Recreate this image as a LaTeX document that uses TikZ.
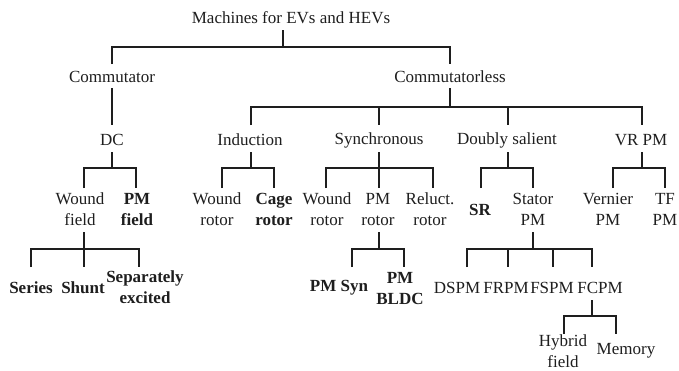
\documentclass[tikz,border=0pt]{standalone}
\usepackage{fontspec}
\setmainfont{Liberation Serif}
\definecolor{ink}{RGB}{30,30,30}
\begin{document}
\begin{tikzpicture}[x=1pt,y=-1pt,
  lab/.style={align=center,inner sep=0pt,text=ink,font=\fontsize{17}{21}\selectfont},
  bl/.style={lab,font=\fontsize{17}{21}\selectfont\bfseries},
  conn/.style={draw=ink,line width=1.8pt}]
\fill[white] (0,0) rectangle (679,370);
\useasboundingbox (0,0) rectangle (679,370);

% nodes
\node[lab] (root) at (291,18) {Machines for EVs and HEVs};
\node[lab] (comm) at (112,77) {Commutator};
\node[lab] (cless) at (450,77) {Commutatorless};
\node[lab] (dc) at (112,140) {DC};
\node[lab] (ind) at (250,140) {Induction};
\node[lab] (syn) at (379,140) {Synchronous};
\node[lab] (ds) at (507,140) {Doubly salient};
\node[lab] (vr) at (641,140) {VR PM};
\node[lab] (wf) at (80,209.5) {Wound\\field};
\node[bl] (pmf) at (137,209.5) {PM\\field};
\node[lab] (wr1) at (217,209.5) {Wound\\rotor};
\node[bl] (cage) at (274,209.5) {Cage\\rotor};
\node[lab] (wr2) at (327,209.5) {Wound\\rotor};
\node[lab] (pmr) at (378,209.5) {PM\\rotor};
\node[lab] (rel) at (430,209.5) {Reluct.\\rotor};
\node[bl] (sr) at (480,210) {SR};
\node[lab] (spm) at (533,209.5) {Stator\\PM};
\node[lab] (vern) at (608,209.5) {Vernier\\PM};
\node[lab] (tf) at (665,209.5) {TF\\PM};
\node[bl] (series) at (31,287.5) {Series};
\node[bl] (shunt) at (83,288) {Shunt};
\node[bl] (sep) at (145,287.5) {Separately\\excited};
\node[bl] (pmsyn) at (339,288) {PM Syn};
\node[bl] (bldc) at (400,288.5) {PM\\BLDC};
\node[lab] (dspm) at (457,288) {DSPM};
\node[lab] (frpm) at (506,288) {FRPM};
\node[lab] (fspm) at (552,288) {FSPM};
\node[lab] (fcpm) at (600,288) {FCPM};
\node[lab] (hyb) at (563,351.5) {Hybrid\\field};
\node[lab] (mem) at (626,351) {Memory};

% join points (x of each connector)
\foreach \n/\d in {root/-8,comm/0,cless/0,dc/0,ind/1,syn/0,ds/1,vr/1,
  wf/4,pmf/-1,wr1/5,cage/0,wr2/-1,pmr/1,rel/3,sr/1,spm/0,vern/5,tf/0,
  series/0,shunt/1,sep/-6,pmsyn/13,bldc/4,dspm/10,frpm/2,fspm/1,fcpm/-8,hyb/1,mem/-10}
  \coordinate (\n-j) at ([xshift=\d pt]\n.center);

% levels
\coordinate (S0) at (0,30);  \coordinate (B0) at (0,47);  \coordinate (T1) at (0,64);
\coordinate (S1) at (0,88);  \coordinate (B1) at (0,107); \coordinate (T2) at (0,125);
\coordinate (S2) at (0,152); \coordinate (B2) at (0,168); \coordinate (T3) at (0,188);
\coordinate (S3) at (0,232); \coordinate (B3) at (0,249); \coordinate (T4) at (0,267);
\coordinate (S4) at (0,300); \coordinate (B4) at (0,316); \coordinate (T5) at (0,334);

% root
\draw[conn] (root-j |- S0) -- (root-j |- B0);
\draw[conn] (comm-j |- T1) -- (comm-j |- B0) -- (cless-j |- B0) -- (cless-j |- T1);
% commutator -> DC
\draw[conn] (comm-j |- S1) -- (dc-j |- T2);
% commutatorless
\draw[conn] (cless-j |- S1) -- (cless-j |- B1);
\draw[conn] (ind-j |- T2) -- (ind-j |- B1) -- (vr-j |- B1) -- (vr-j |- T2);
\draw[conn] (syn-j |- B1) -- (syn-j |- T2);
\draw[conn] (ds-j |- B1) -- (ds-j |- T2);
% DC
\draw[conn] (dc-j |- S2) -- (dc-j |- B2);
\draw[conn] (wf-j |- T3) -- (wf-j |- B2) -- (pmf-j |- B2) -- (pmf-j |- T3);
% Induction
\draw[conn] (ind-j |- S2) -- (ind-j |- B2);
\draw[conn] (wr1-j |- T3) -- (wr1-j |- B2) -- (cage-j |- B2) -- (cage-j |- T3);
% Synchronous
\draw[conn] (syn-j |- S2) -- (syn-j |- B2);
\draw[conn] (wr2-j |- T3) -- (wr2-j |- B2) -- (rel-j |- B2) -- (rel-j |- T3);
\draw[conn] (pmr-j |- B2) -- (pmr-j |- T3);
% Doubly salient
\draw[conn] (ds-j |- S2) -- (ds-j |- B2);
\draw[conn] (sr-j |- T3) -- (sr-j |- B2) -- (spm-j |- B2) -- (spm-j |- T3);
% VR PM
\draw[conn] (vr-j |- S2) -- (vr-j |- B2);
\draw[conn] (vern-j |- T3) -- (vern-j |- B2) -- (tf-j |- B2) -- (tf-j |- T3);
% Wound field
\draw[conn] (wf-j |- S3) -- (wf-j |- B3);
\draw[conn] (series-j |- T4) -- (series-j |- B3) -- (sep-j |- B3) -- (sep-j |- T4);
\draw[conn] (shunt-j |- B3) -- (shunt-j |- T4);
% PM rotor
\draw[conn] (pmr-j |- S3) -- (pmr-j |- B3);
\draw[conn] (pmsyn-j |- T4) -- (pmsyn-j |- B3) -- (bldc-j |- B3) -- (bldc-j |- T4);
% Stator PM
\draw[conn] (spm-j |- S3) -- (spm-j |- B3);
\draw[conn] (dspm-j |- T4) -- (dspm-j |- B3) -- (fcpm-j |- B3) -- (fcpm-j |- T4);
\draw[conn] (frpm-j |- B3) -- (frpm-j |- T4);
\draw[conn] (fspm-j |- B3) -- (fspm-j |- T4);
% FCPM
\draw[conn] (fcpm-j |- S4) -- (fcpm-j |- B4);
\draw[conn] (hyb-j |- T5) -- (hyb-j |- B4) -- (mem-j |- B4) -- (mem-j |- T5);
\end{tikzpicture}
\end{document}
